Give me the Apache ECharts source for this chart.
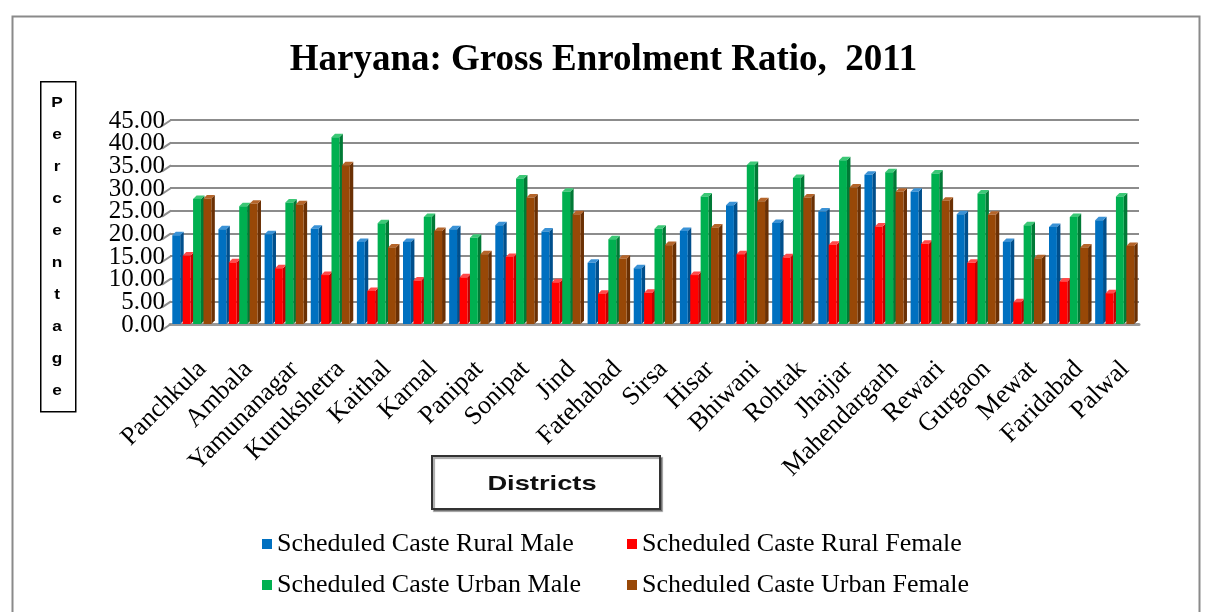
<!DOCTYPE html>
<html>
<head>
<meta charset="utf-8">
<title>Haryana: Gross Enrolment Ratio, 2011</title>
<script src="https://cdn.jsdelivr.net/npm/echarts@6/dist/echarts.min.js"></script>
<style>
  html, body { margin: 0; padding: 0; background: #ffffff; }
  #chart { width: 1207px; height: 612px; }
</style>
</head>
<body>
<div id="chart"></div>
<script>
// Districts of Haryana (x axis)
const districts = [
  'Panchkula', 'Ambala', 'Yamunanagar', 'Kurukshetra', 'Kaithal', 'Karnal', 'Panipat',
  'Sonipat', 'Jind', 'Fatehabad', 'Sirsa', 'Hisar', 'Bhiwani', 'Rohtak', 'Jhajjar',
  'Mahendargarh', 'Rewari', 'Gurgaon', 'Mewat', 'Faridabad', 'Palwal'
];

// Gross Enrolment Ratio (%) by group
const scRuralMale = [
  19.6, 20.9, 19.8, 21.0, 18.1, 18.1, 20.9, 21.8, 20.4, 13.5, 12.3,
  20.5, 26.2, 22.3, 24.8, 32.9, 29.2, 24.2, 18.1, 21.4, 22.9
];
const scRuralFemale = [
  15.1, 13.6, 12.3, 10.8, 7.3, 9.6, 10.3, 14.8, 9.2, 6.7, 6.9,
  10.8, 15.4, 14.7, 17.5, 21.5, 17.7, 13.5, 4.8, 9.4, 6.8
];
const scUrbanMale = [
  27.6, 26.0, 26.8, 41.2, 22.2, 23.6, 19.0, 32.1, 29.2, 18.7, 21.0,
  28.1, 35.1, 32.2, 36.1, 33.5, 33.2, 28.8, 21.8, 23.6, 28.1
];
const scUrbanFemale = [
  27.7, 26.5, 26.4, 35.0, 16.9, 20.5, 15.4, 27.9, 24.2, 14.4, 17.4,
  21.3, 27.1, 27.9, 30.1, 29.2, 27.2, 24.1, 14.5, 16.9, 17.2
];

// Y axis ticks
const yMin = 0;
const yMax = 45;
const yStep = 5;
const yTicks = [0, 5, 10, 15, 20, 25, 30, 35, 40, 45];
const yTickLabels = ['0.00', '5.00', '10.00', '15.00', '20.00', '25.00', '30.00', '35.00', '40.00', '45.00'];

const seriesNames = [
  'Scheduled Caste Rural Male',
  'Scheduled Caste Rural Female',
  'Scheduled Caste Urban Male',
  'Scheduled Caste Urban Female'
];
const seriesValues = [scRuralMale, scRuralFemale, scUrbanMale, scUrbanFemale];

// front / side / top shades for each group's columns
const palette = [
  { front: '#0070C0', side: '#004f8c', top: '#3a92d6' },
  { front: '#FF0000', side: '#c00000', top: '#ff4a4a' },
  { front: '#00B050', side: '#007a36', top: '#3cc876' },
  { front: '#984807', side: '#6a3004', top: '#b5652a' }
];

const serif = '"Liberation Serif", "Times New Roman", serif';
const sans = '"Liberation Sans", Arial, sans-serif';

// draws one pseudo-3D column: front face, right side face, top face
function columnRenderer(seriesIndex) {
  return function (params, api) {
    const idx = api.value(0);
    const val = api.value(1);
    const base = api.coord([idx, 0]);
    const top = api.coord([idx, val]);
    const band = api.size([1, 0])[0];
    const groupW = band * 0.9;
    const barW = groupW / 4;
    const x0 = base[0] - groupW / 2 + seriesIndex * barW;
    const w = barW - 2.5;
    const d = 3.5;
    const c = palette[seriesIndex];
    const yb = base[1];
    const yt = top[1];
    return {
      type: 'group',
      children: [
        {
          type: 'polygon',
          shape: { points: [[x0 + w, yt], [x0 + w + d, yt - d], [x0 + w + d, yb - d], [x0 + w, yb]] },
          style: { fill: c.side }
        },
        {
          type: 'polygon',
          shape: { points: [[x0, yt], [x0 + d, yt - d], [x0 + w + d, yt - d], [x0 + w, yt]] },
          style: { fill: c.top }
        },
        {
          type: 'rect',
          shape: { x: x0, y: yt, width: w, height: yb - yt },
          style: { fill: c.front }
        }
      ]
    };
  };
}

// side wall: a slanted stroke where each gridline meets it, plus the tick label
function wallRenderer(params, api) {
  const p = api.coord([0, api.value(0)]);
  const left = p[0] - api.size([1, 0])[0] / 2;
  const y = p[1];
  return {
    type: 'group',
    children: [
      {
        type: 'line',
        shape: { x1: left - 8, y1: y + 6, x2: left + 1, y2: y },
        style: { stroke: '#8c8c8c', lineWidth: 2 }
      },
      {
        type: 'text',
        x: left - 5,
        y: y + 1,
        style: {
          text: yTickLabels[params.dataIndex],
          fontFamily: serif,
          fontSize: 25,
          fill: '#000',
          align: 'right',
          verticalAlign: 'middle'
        }
      }
    ]
  };
}

const series = seriesNames.map(function (name, si) {
  return {
    name: name,
    type: 'custom',
    renderItem: columnRenderer(si),
    itemStyle: { color: palette[si].front },
    encode: { x: 0, y: 1 },
    data: seriesValues[si].map(function (v, i) { return [i, v]; }),
    clip: false,
    z: 2
  };
});

series.push({
  name: 'wall',
  type: 'custom',
  renderItem: wallRenderer,
  coordinateSystem: 'cartesian2d',
  encode: { y: 0 },
  data: yTicks.map(function (v) { return [v]; }),
  silent: true,
  clip: false,
  z: 1
});

const chart = echarts.init(document.getElementById('chart'), null, { renderer: 'canvas' });

const legendText = { fontFamily: serif, fontSize: 26, color: '#000' };

chart.setOption({
  animation: false,
  backgroundColor: '#ffffff',
  title: {
    text: 'Haryana: Gross Enrolment Ratio,  2011',
    left: 'center',
    top: 37,
    textStyle: { fontFamily: serif, fontWeight: 'bold', fontSize: 37, color: '#000' }
  },
  legend: [
    {
      data: [seriesNames[0], seriesNames[2]],
      orient: 'vertical',
      left: 257,
      top: 526,
      itemWidth: 10,
      itemHeight: 10,
      itemGap: 15,
      icon: 'rect',
      textStyle: legendText
    },
    {
      data: [seriesNames[1], seriesNames[3]],
      orient: 'vertical',
      left: 622,
      top: 526,
      itemWidth: 10,
      itemHeight: 10,
      itemGap: 15,
      icon: 'rect',
      textStyle: legendText
    }
  ],
  grid: { left: 170, right: 68, top: 120, bottom: 288 },
  xAxis: {
    type: 'category',
    data: districts,
    boundaryGap: true,
    axisLine: { lineStyle: { color: '#9a9a9a', width: 3 } },
    axisTick: { show: false },
    axisLabel: {
      interval: 0,
      rotate: 45,
      margin: 32,
      verticalAlign: 'top',
      fontFamily: serif,
      fontSize: 26,
      color: '#000'
    }
  },
  yAxis: {
    type: 'value',
    min: yMin,
    max: yMax,
    interval: yStep,
    axisLine: { show: false },
    axisTick: { show: false },
    axisLabel: { show: false },
    splitLine: { lineStyle: { color: '#8c8c8c', width: 2 } }
  },
  graphic: [
    {
      type: 'rect',
      left: 10, top: 14,
      shape: { width: 1187, height: 620 },
      style: { fill: 'none', stroke: '#8a8a8a', lineWidth: 2 },
      silent: true
    },
    {
      type: 'rect',
      left: 40, top: 81,
      shape: { width: 35, height: 330 },
      style: { fill: '#fff', stroke: '#000', lineWidth: 1.5 },
      silent: true
    },
    {
      type: 'text',
      x: 57, y: 87,
      scaleX: 1.15,
      style: {
        text: 'P\ne\nr\nc\ne\nn\nt\na\ng\ne',
        fontFamily: sans,
        fontWeight: 'bold',
        fontSize: 15,
        lineHeight: 32,
        fill: '#000',
        align: 'center',
        verticalAlign: 'top'
      },
      silent: true
    },
    {
      type: 'rect',
      left: 431, top: 455,
      shape: { width: 228, height: 53 },
      style: { fill: '#fff', stroke: '#333', lineWidth: 2, shadowColor: 'rgba(0,0,0,0.35)', shadowOffsetX: 2, shadowOffsetY: 2, shadowBlur: 1 },
      silent: true
    },
    {
      type: 'text',
      x: 542, y: 484,
      scaleX: 1.3,
      style: {
        text: 'Districts',
        fontFamily: sans,
        fontWeight: 'bold',
        fontSize: 21,
        fill: '#111',
        align: 'center',
        verticalAlign: 'middle'
      },
      silent: true
    }
  ],
  series: series
});
</script>
</body>
</html>
